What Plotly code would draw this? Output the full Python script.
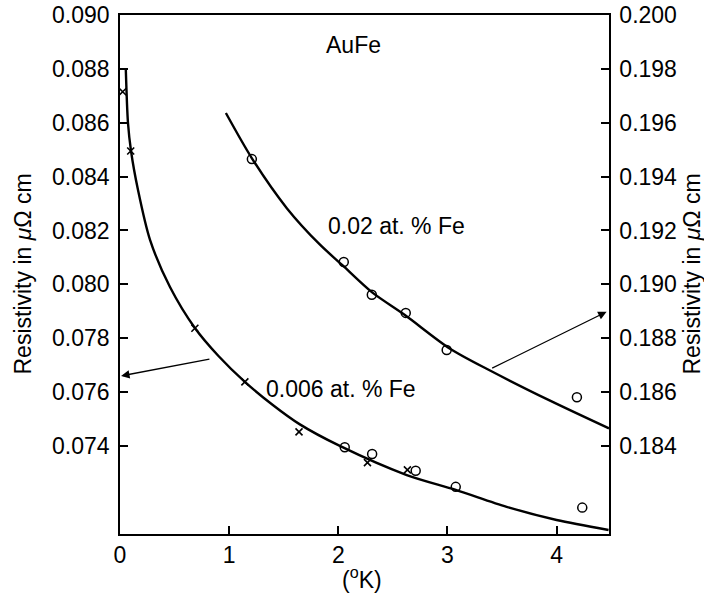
import plotly.graph_objects as go

# ---- data ----
# 0.006 at.% Fe (left axis)
low_curve_x = [0.053, 0.073, 0.101, 0.165, 0.275, 0.458, 0.686, 0.900, 1.144, 1.400, 1.648, 2.014, 2.627, 3.076, 3.542, 4.000, 4.476]
low_curve_y = [0.08800, 0.08600, 0.08495, 0.08350, 0.08165, 0.07990, 0.07838, 0.07735, 0.07638, 0.07552, 0.07480, 0.07400, 0.07292, 0.07237, 0.07174, 0.07125, 0.07088]
low_cross_x = [0.025, 0.098, 0.686, 1.144, 1.64, 2.267, 2.633]
low_cross_y = [0.08715, 0.08495, 0.07837, 0.07638, 0.07452, 0.07338, 0.07311]
low_circ_x = [2.059, 2.31, 2.709, 3.076, 4.235]
low_circ_y = [0.07395, 0.07370, 0.07308, 0.07248, 0.07171]

# 0.02 at.% Fe (right axis)
up_curve_x = [0.97, 1.21, 1.53, 1.83, 2.04, 2.31, 2.61, 3.02, 3.39, 3.94, 4.48]
up_curve_y = [0.19636, 0.19467, 0.19282, 0.19148, 0.19070, 0.18970, 0.18886, 0.18762, 0.18680, 0.18568, 0.18465]
up_circ_x = [1.208, 2.05, 2.307, 2.618, 2.993, 4.186]
up_circ_y = [0.19465, 0.19083, 0.18961, 0.18894, 0.18756, 0.18581]

left_ticks = [0.074, 0.076, 0.078, 0.080, 0.082, 0.084, 0.086, 0.088, 0.090]
right_ticks = [0.184, 0.186, 0.188, 0.190, 0.192, 0.194, 0.196, 0.198, 0.200]
x_ticks = [0, 1, 2, 3, 4]

FONT = "Liberation Sans, Arial, Helvetica, sans-serif"
FS = 23

fig = go.Figure()
fig.add_trace(go.Scatter(x=low_curve_x, y=low_curve_y, mode="lines",
                         line=dict(color="black", width=2.4, shape="spline", smoothing=0.8),
                         yaxis="y", showlegend=False, hoverinfo="skip"))
fig.add_trace(go.Scatter(x=up_curve_x, y=up_curve_y, mode="lines",
                         line=dict(color="black", width=2.4, shape="spline", smoothing=0.8),
                         yaxis="y2", showlegend=False, hoverinfo="skip"))
fig.add_trace(go.Scatter(x=low_cross_x, y=low_cross_y, mode="markers",
                         marker=dict(symbol="x-thin", size=7, line=dict(color="black", width=1.6), color="black"),
                         yaxis="y", showlegend=False))
fig.add_trace(go.Scatter(x=low_circ_x, y=low_circ_y, mode="markers",
                         marker=dict(symbol="circle-open", size=9, line=dict(color="black", width=1.5), color="black"),
                         yaxis="y", showlegend=False))
fig.add_trace(go.Scatter(x=up_circ_x, y=up_circ_y, mode="markers",
                         marker=dict(symbol="circle-open", size=9, line=dict(color="black", width=1.5), color="black"),
                         yaxis="y2", showlegend=False))

annotations = [
    dict(x=2.14, y=0.08889, xref="x", yref="y", text="AuFe", showarrow=False,
         font=dict(size=FS, family=FONT, color="black"), xanchor="center", yanchor="middle"),
    dict(x=1.886, y=0.19217, xref="x", yref="y2", text="0.02 at. % Fe", showarrow=False,
         font=dict(size=FS, family=FONT, color="black"), xanchor="left", yanchor="middle"),
    dict(x=1.318, y=0.07612, xref="x", yref="y", text="0.006 at. % Fe", showarrow=False,
         font=dict(size=FS, family=FONT, color="black"), xanchor="left", yanchor="middle"),
    # arrows
    dict(x=0.01, y=0.0766, xref="x", yref="y", ax=0.833, ay=0.07723, axref="x", ayref="y",
         text="", showarrow=True, arrowhead=2, arrowsize=1.3, arrowwidth=1.3, arrowcolor="black"),
    dict(x=4.458, y=0.18898, xref="x", yref="y2", ax=3.396, ay=0.18686, axref="x", ayref="y2",
         text="", showarrow=True, arrowhead=2, arrowsize=1.3, arrowwidth=1.3, arrowcolor="black"),
    # axis titles
    dict(x=-0.2004, y=0.5, xref="paper", yref="paper", text="Resistivity in <i>μ</i>Ω cm",
         textangle=-90, showarrow=False, font=dict(size=FS, family=FONT, color="black"),
         xanchor="center", yanchor="middle"),
    dict(x=1.1677, y=0.5, xref="paper", yref="paper", text="Resistivity in <i>μ</i>Ω cm",
         textangle=-90, showarrow=False, font=dict(size=FS, family=FONT, color="black"),
         xanchor="center", yanchor="middle"),
    dict(x=0.495, y=-0.085, xref="paper", yref="paper", text="(<sup>o</sup>K)",
         showarrow=False, font=dict(size=FS, family=FONT, color="black"),
         xanchor="center", yanchor="middle"),
]

fig.update_layout(
    width=704, height=596,
    margin=dict(l=120, r=95, t=15, b=62, autoexpand=False),
    paper_bgcolor="white", plot_bgcolor="white",
    font=dict(family=FONT, size=FS, color="black"),
    xaxis=dict(range=[0, 4.48], tickvals=x_ticks, ticks="inside", ticklen=8, tickwidth=1.5,
               showline=True, linecolor="black", linewidth=1.5, mirror=True, automargin=False,
               showgrid=False, zeroline=False, tickcolor="black", ticklabelstandoff=0,
               ticklabeloverflow="allow"),
    yaxis=dict(range=[0.07073, 0.0900], tickvals=left_ticks, tickformat=".3f", automargin=False,
               ticks="inside", ticklen=8, tickwidth=1.5, tickcolor="black",
               showline=True, linecolor="black", linewidth=1.5, ticklabeloverflow="allow",
               showgrid=False, zeroline=False, ticklabelstandoff=4),
    yaxis2=dict(range=[0.18073, 0.2000], tickvals=right_ticks, tickformat=".3f", automargin=False,
                overlaying="y", side="right", ticklabeloverflow="allow",
                ticks="inside", ticklen=8, tickwidth=1.5, tickcolor="black",
                showline=True, linecolor="black", linewidth=1.5,
                showgrid=False, zeroline=False, ticklabelstandoff=4),
    annotations=annotations,
)

fig.write_html("out.html", config={"displayModeBar": False},
               post_script="document.body.style.margin='0px';")
